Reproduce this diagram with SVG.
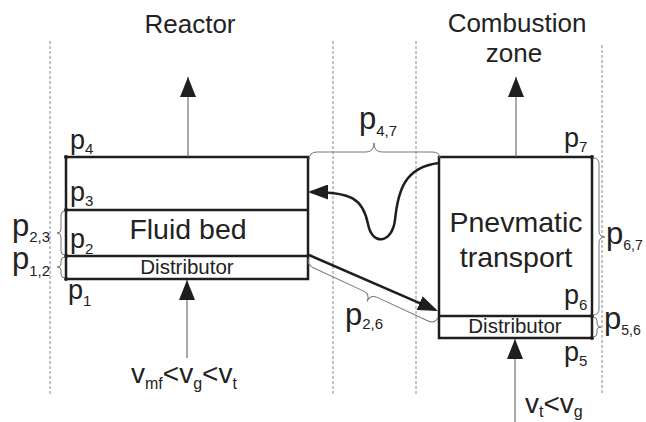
<svg xmlns="http://www.w3.org/2000/svg" width="646" height="422" viewBox="0 0 646 422">
<defs>
<style>
text{font-family:"Liberation Sans",Arial,sans-serif;fill:#222}
.t26{font-size:26px}
.big{font-size:28.5px}
.dist{font-size:20.5px}
.pi{font-size:27px}
.po{font-size:31px}
.sub{font-size:15px}
.box{fill:none;stroke:#1e1e1e;stroke-width:2.5}
.sep{stroke:#1e1e1e;stroke-width:2.5}
.thin{stroke:#555;stroke-width:1;fill:none}
.thick{stroke:#1e1e1e;stroke-width:2.5;fill:none}
.brace{stroke:#777;stroke-width:1;fill:none}
.dash{stroke:#888;stroke-width:1;stroke-dasharray:3 2}
.dot{fill:#1e1e1e}
</style>
<marker id="ah" viewBox="0 0 20 16" refX="20" refY="8" markerWidth="20" markerHeight="16" markerUnits="userSpaceOnUse" orient="auto">
<path d="M0,0 L20,8 L0,16 Z" fill="#1e1e1e"/>
</marker>
<marker id="ahb" viewBox="0 0 20 15" refX="17" refY="7.5" markerWidth="20" markerHeight="15" markerUnits="userSpaceOnUse" orient="auto">
<path d="M0,0 L20,7.5 L0,15 Z" fill="#1e1e1e"/>
</marker>
</defs>
<rect width="646" height="422" fill="#fff"/>

<g id="zones">
<line class="dash" x1="50" y1="41" x2="50" y2="394"/>
<line class="dash" x1="333" y1="41" x2="333" y2="394"/>
<line class="dash" x1="416" y1="41" x2="416" y2="395"/>
<line class="dash" x1="602" y1="45" x2="602" y2="395"/>
<text class="t26" x="190" y="33" text-anchor="middle">Reactor</text>
<text class="t26" x="517" y="32" text-anchor="middle">Combustion</text>
<text class="t26" x="514" y="62" text-anchor="middle">zone</text>
</g>

<g id="reactor">
<rect class="box" x="66" y="157" width="242" height="122"/>
<line class="sep" x1="66" y1="210" x2="308" y2="210"/>
<line class="sep" x1="66" y1="256" x2="308" y2="256"/>
<circle class="dot" cx="66" cy="157" r="2"/>
<circle class="dot" cx="66" cy="210" r="2"/>
<circle class="dot" cx="66" cy="256" r="2"/>
<circle class="dot" cx="66" cy="279" r="2"/>
<text class="big" x="188" y="239" text-anchor="middle">Fluid bed</text>
<text class="dist" x="187" y="274" text-anchor="middle">Distributor</text>
<text class="pi" x="70" y="149">p<tspan class="sub" dy="5">4</tspan></text>
<text class="pi" x="70" y="201">p<tspan class="sub" dy="5">3</tspan></text>
<text class="pi" x="70" y="248">p<tspan class="sub" dy="6">2</tspan></text>
<text class="pi" x="68" y="299">p<tspan class="sub" dy="7">1</tspan></text>
<text class="po" x="12" y="236">p<tspan class="sub" dy="6">2,3</tspan></text>
<text class="po" x="12" y="269">p<tspan class="sub" dy="7">1,2</tspan></text>
<path class="brace" d="M65,211 Q61,211 61,215 L61,229 Q61,233 57,233 Q61,233 61,237 L61,251 Q61,255 65,255"/>
<path class="brace" d="M65,257 Q61,257 61,261 L61,264 Q61,267 57,267 Q61,267 61,270 L61,274 Q61,278 65,278"/>
</g>

<g id="combustion">
<rect class="box" x="439" y="157" width="153" height="181"/>
<line class="sep" x1="439" y1="316" x2="592" y2="316"/>
<circle class="dot" cx="592" cy="157" r="2"/>
<circle class="dot" cx="592" cy="316" r="2"/>
<circle class="dot" cx="592" cy="338" r="2"/>
<text class="big" x="516" y="232" text-anchor="middle">Pnevmatic</text>
<text class="big" x="516" y="267" text-anchor="middle">transport</text>
<text class="dist" x="515" y="333" text-anchor="middle">Distributor</text>
<text class="pi" x="564" y="147">p<tspan class="sub" dy="5">7</tspan></text>
<text class="pi" x="564" y="304">p<tspan class="sub" dy="6">6</tspan></text>
<text class="pi" x="564" y="361">p<tspan class="sub" dy="5">5</tspan></text>
<text class="po" x="606" y="244">p<tspan class="sub" style="font-size:14px" dy="6">6,7</tspan></text>
<text class="po" x="604" y="329">p<tspan class="sub" style="font-size:14px" dy="6">5,6</tspan></text>
<path class="brace" d="M593,158 Q599,158 599,164 L599,231 Q599,237 605,237 Q599,237 599,243 L599,309 Q599,315 593,315"/>
<path class="brace" d="M593,317 Q597,317 597,321 L597,324 Q597,327 601,327 Q597,327 597,330 L597,333 Q597,337 593,337"/>
</g>

<g id="flows">
<path class="brace" d="M309,160 Q309,152 317,152 L366,152 Q374,152 374,143 Q374,152 382,152 L432,152 Q440,152 440,158"/>
<text class="po" x="359" y="129">p<tspan class="sub" dy="7">4,7</tspan></text>
<g transform="translate(309,258) rotate(24.9)">
<path class="brace" d="M0,0 Q0,7 8,7 L63,7 Q71,7 71,15 Q71,7 79,7 L134,7 Q142,7 142,0"/>
</g>
<text class="po" x="345" y="325">p<tspan class="sub" dy="4">2,6</tspan></text>
</g>

<g id="connectors">
<line class="thin" x1="188" y1="157" x2="188" y2="77" marker-end="url(#ah)"/>
<line class="thin" x1="516" y1="157" x2="516" y2="77" marker-end="url(#ah)"/>
<line class="thin" x1="187" y1="358" x2="187" y2="280" marker-end="url(#ah)"/>
<line class="thin" x1="515" y1="422" x2="515" y2="339" marker-end="url(#ah)"/>
<path class="thick" d="M309,255 L435.2,309.8" marker-end="url(#ahb)"/>
<path class="thick" d="M439,163 C405,167 398,190 395,220 C392,244 372,246 368,224 C363,199 352,192 311,192" marker-end="url(#ahb)"/>
</g>

<g id="velocities">
<text class="pi" x="131" y="383" style="font-size:28px">v<tspan style="font-size:16px" dy="6">mf</tspan><tspan dy="-6">&lt;v</tspan><tspan style="font-size:16px" dy="6">g</tspan><tspan dy="-6">&lt;v</tspan><tspan style="font-size:16px" dy="6">t</tspan></text>
<text class="pi" x="525" y="413" style="font-size:28px">v<tspan style="font-size:16px" dy="4">t</tspan><tspan dy="-4">&lt;v</tspan><tspan style="font-size:16px" dy="4">g</tspan></text>
</g>
</svg>
